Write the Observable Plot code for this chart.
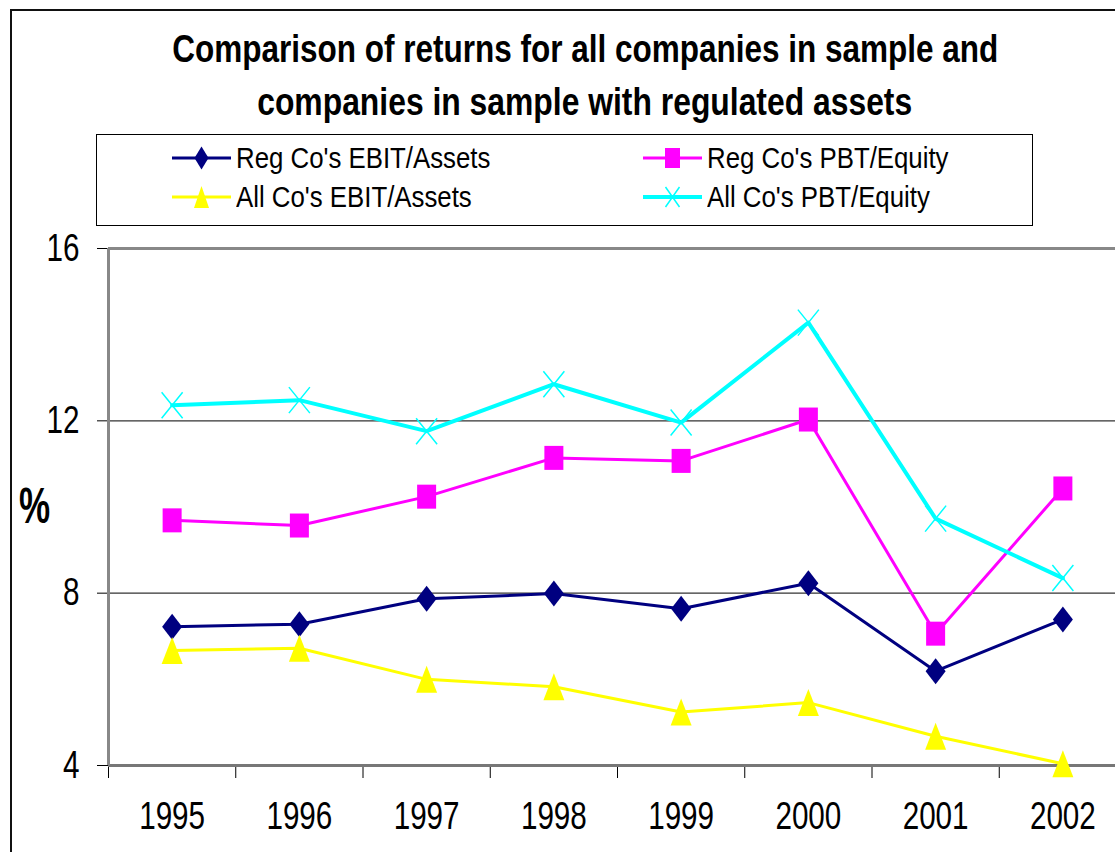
<!DOCTYPE html>
<html>
<head>
<meta charset="utf-8">
<script src="https://cdn.jsdelivr.net/npm/d3@7"></script>
<script src="https://cdn.jsdelivr.net/npm/@observablehq/plot@0.6"></script>
<style>
  html, body { margin: 0; padding: 0; background: #fff; overflow: hidden; width: 1115px; height: 852px; }
  #root { position: relative; width: 1115px; height: 852px; overflow: hidden; font-family: "Liberation Sans", Arial, sans-serif; color: #000; }
  #border { position: absolute; left: 10px; top: 9px; width: 2000px; height: 2000px; border-top: 2px solid #111; border-left: 2px solid #111; box-sizing: border-box; pointer-events: none; z-index: 5; }
  #header { position: absolute; left: 0; top: 0; width: 1115px; height: 228px; }
  .tline { position: absolute; left: 0; width: 1170px; text-align: center; font-weight: bold; font-size: 38px; line-height: 53px; white-space: nowrap; }
  .tline span { display: inline-block; transform-origin: center; }
  #legend { position: absolute; left: 96px; top: 134px; width: 937px; height: 92px; border: 1px solid #000; box-sizing: border-box; }
  .entry { position: absolute; height: 30px; display: flex; align-items: center; white-space: nowrap; }
  .entry svg { flex: none; }
  .entry span { display: inline-block; font-size: 30px; line-height: 30px; transform-origin: left center; margin-left: 5px; }
  #chart { position: absolute; left: 0; top: 228px; }
</style>
</head>
<body>
<div id="root">
  <div id="header">
    <div class="tline" style="top:23px"><span id="t1"></span></div>
    <div class="tline" style="top:76px"><span id="t2"></span></div>
    <div id="legend"></div>
  </div>
  <div id="chart"></div>
  <div id="border"></div>
</div>
<script>
// ---- data ----
const titleLines = ["Comparison of returns for all companies in sample and", "companies in sample with regulated assets"];
const years = [1995, 1996, 1997, 1998, 1999, 2000, 2001, 2002];
const seriesNames = ["Reg Co's EBIT/Assets", "Reg Co's PBT/Equity", "All Co's EBIT/Assets", "All Co's PBT/Equity"];
const regEbitAssets = [7.22, 7.28, 7.87, 7.99, 7.64, 8.23, 6.19, 7.39];
const regPbtEquity  = [9.69, 9.57, 10.24, 11.14, 11.07, 12.03, 7.06, 10.43];
const allEbitAssets = [6.67, 6.72, 6.00, 5.83, 5.24, 5.46, 4.68, 4.04];
const allPbtEquity  = [12.36, 12.48, 11.76, 12.85, 11.96, 14.28, 9.73, 8.35];
const yTicks = [4, 8, 12, 16];
const gridValues = [8, 12];
const yLabel = "%";
const yDomain = [4, 16];

// ---- styles ----
const seriesColors = ["#000080", "#FF00FF", "#FFFF00", "#00FFFF"];
const seriesWidths = [3, 3, 3, 4];
const seriesValues = [regEbitAssets, regPbtEquity, allEbitAssets, allPbtEquity];

// custom marker shapes (Excel-like, slightly narrow)
const mkDiamond = (w, h) => ({draw(c) { c.moveTo(0, -h); c.lineTo(w, 0); c.lineTo(0, h); c.lineTo(-w, 0); c.closePath(); }});
const mkSquare = (w, h) => ({draw(c) { c.rect(-w, -h, 2 * w, 2 * h); }});
const mkTriangle = (w, h) => ({draw(c) { c.moveTo(0, -h); c.lineTo(w, h); c.lineTo(-w, h); c.closePath(); }});
const mkCross = (w, h) => ({draw(c) { c.moveTo(-w, -h); c.lineTo(w, h); c.moveTo(w, -h); c.lineTo(-w, h); }});
const plotSymbols = [mkDiamond(10, 13), mkSquare(9.5, 12), mkTriangle(10.5, 13.5), mkCross(10.5, 13)];
const legendSymbols = [mkDiamond(7, 11.5), mkSquare(7.5, 10), mkTriangle(7.5, 11), mkCross(7, 10)];
const filled = [true, true, true, false];

// long-format rows
const rows = [];
seriesNames.forEach((s, i) => years.forEach((yr, j) => rows.push({series: s, year: yr, value: seriesValues[i][j]})));
const boundaries = years.map(y => y - 0.5).concat([years[years.length - 1] + 0.5]);

// ---- title ----
document.getElementById("t1").textContent = titleLines[0];
document.getElementById("t2").textContent = titleLines[1];
[["t1", 826], ["t2", 655]].forEach(([id, target]) => {
  const el = document.getElementById(id);
  const w = el.getBoundingClientRect().width;
  el.style.transform = `scaleX(${target / w})`;
});

// ---- legend ----
const legend = document.getElementById("legend");
const legendPos = [[172 - 96, 158], [643 - 96, 158], [172 - 96, 197], [643 - 96, 197]];
seriesNames.forEach((name, i) => {
  const e = document.createElement("div");
  e.className = "entry";
  e.style.left = (legendPos[i][0] - 1) + "px";
  e.style.top = (legendPos[i][1] - 134 - 1 - 15) + "px";
  const ns = "http://www.w3.org/2000/svg";
  const svg = document.createElementNS(ns, "svg");
  svg.setAttribute("width", 59); svg.setAttribute("height", 30);
  svg.style.overflow = "visible";
  const ln = document.createElementNS(ns, "line");
  ln.setAttribute("x1", 0); ln.setAttribute("x2", 59); ln.setAttribute("y1", 15); ln.setAttribute("y2", 15);
  ln.setAttribute("stroke", seriesColors[i]); ln.setAttribute("stroke-width", seriesWidths[i]);
  svg.appendChild(ln);
  const p = d3.path(); legendSymbols[i].draw(p);
  const path = document.createElementNS(ns, "path");
  path.setAttribute("d", p.toString());
  path.setAttribute("transform", "translate(29.5,15)");
  if (filled[i]) { path.setAttribute("fill", seriesColors[i]); }
  else { path.setAttribute("fill", "none"); path.setAttribute("stroke", seriesColors[i]); path.setAttribute("stroke-width", 1.5); }
  svg.appendChild(path);
  e.appendChild(svg);
  const sp = document.createElement("span");
  sp.textContent = name;
  sp.style.transform = "scaleX(0.86)";
  e.appendChild(sp);
  legend.appendChild(e);
});

// ---- plot ----
const marks = [
  Plot.ruleY(gridValues, {stroke: "#333", strokeWidth: 1.2}),
  Plot.ruleY([yDomain[1]], {stroke: "#888", strokeWidth: 3}),
  Plot.ruleY([yDomain[0]], {stroke: "#777", strokeWidth: 3}),
  Plot.ruleX([boundaries[0]], {stroke: "#888", strokeWidth: 3}),
];
seriesNames.forEach((name, i) => {
  const data = rows.filter(d => d.series === name);
  marks.push(Plot.line(data, {x: "year", y: "value", stroke: seriesColors[i], strokeWidth: seriesWidths[i]}));
  marks.push(Plot.dot(data, {
    x: "year", y: "value", symbol: plotSymbols[i], r: 5,
    fill: filled[i] ? seriesColors[i] : "none",
    stroke: filled[i] ? "none" : seriesColors[i],
    strokeWidth: filled[i] ? 0 : 1.5
  }));
});
marks.push(Plot.text(years, {x: d => d, frameAnchor: "bottom", dy: 63, text: d => String(d), fill: "#000"}));
marks.push(Plot.text([yLabel], {frameAnchor: "left", y: () => 10, dx: -74, text: d => d, fontWeight: "bold", fontSize: 50, textAnchor: "middle", fill: "#000"}));

const chart = Plot.plot({
  width: 1130,
  height: 624,
  marginLeft: 108,
  marginRight: 4,
  marginTop: 20,
  marginBottom: 87,
  style: "max-width:none;overflow:visible;background:transparent;font-family:'Liberation Sans',Arial,sans-serif;font-size:38px;color:#000;",
  x: {domain: [boundaries[0], boundaries[boundaries.length - 1]], ticks: boundaries, tickFormat: () => "", tickSize: 13, label: null},
  y: {domain: yDomain, ticks: yTicks, tickSize: 11, tickPadding: 18, label: null},
  marks
});
document.getElementById("chart").appendChild(chart);

// narrow the tick text like the original
chart.querySelectorAll("text").forEach(t => {
  const txt = t.textContent;
  if (!txt) return;
  const L = t.getComputedTextLength();
  const f = txt === yLabel ? 0.7 : 0.78;
  t.setAttribute("textLength", L * f);
  t.setAttribute("lengthAdjust", "spacingAndGlyphs");
});
</script>
</body>
</html>
